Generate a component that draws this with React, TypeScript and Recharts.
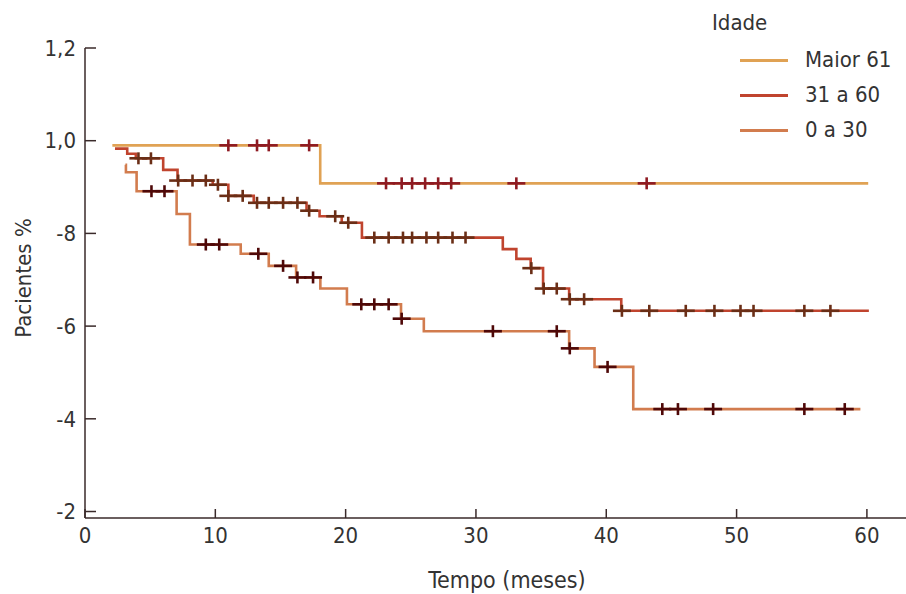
import React from "react";
import {
  ComposedChart,
  Line,
  Scatter,
  XAxis,
  YAxis,
  Legend,
  Label
} from "recharts";

// Kaplan-Meier: tempo (meses) x proporção de pacientes, por faixa de idade
const maiorTempo = [2.1, 18.05, 60.1];
const maiorSobrevida = [0.99, 0.908, 0.908];
const maiorCensura = [11.0, 13.2, 14.1, 17.2, 23.1, 24.3, 25.1, 26.1, 27.1, 28.1, 33.1, 43.1];

const medioTempo = [2.3, 3.24, 3.9, 6.0, 7.1, 9.8, 11.0, 12.95, 17.0, 18.0, 19.7, 21.25, 32.06, 33.1, 34.2, 35.15, 37.15, 41.15, 60.15];
const medioSobrevida = [0.983, 0.972, 0.962, 0.937, 0.914, 0.905, 0.881, 0.866, 0.849, 0.837, 0.823, 0.791, 0.766, 0.745, 0.725, 0.681, 0.658, 0.633, 0.633];
const medioCensura = [4.1, 5.06, 7.15, 8.25, 9.27, 10.2, 11.0, 12.1, 13.2, 14.1, 15.2, 16.3, 17.2, 19.2, 20.2, 22.2, 23.3, 24.4, 25.1, 26.2, 27.1, 28.2, 29.2, 34.25, 35.2, 36.2, 37.2, 38.3, 41.2, 43.3, 46.1, 48.3, 50.3, 51.3, 55.2, 57.2];

const jovemTempo = [3.1, 3.14, 3.96, 7.03, 8.05, 11.95, 14.1, 16.2, 18.06, 20.1, 24.25, 26.0, 37.15, 39.1, 42.07, 59.5];
const jovemSobrevida = [0.948, 0.932, 0.891, 0.842, 0.776, 0.756, 0.73, 0.705, 0.681, 0.647, 0.616, 0.589, 0.552, 0.512, 0.421, 0.421];
const jovemCensura = [5.1, 6.1, 9.27, 10.3, 13.3, 15.2, 16.3, 17.5, 21.2, 22.2, 23.3, 24.3, 31.3, 36.2, 37.2, 40.1, 44.3, 45.5, 48.2, 55.2, 58.3];

const xTicks = [0, 10, 20, 30, 40, 50, 60];
const yTicks = [0.2, 0.4, 0.6, 0.8, 1.0, 1.2];
const yTickLabels = ["-2", "-4", "-6", "-8", "1,0", "1,2"];

const font = "'Liberation Sans Narrow', 'DejaVu Sans Condensed', 'Roboto Condensed', sans-serif";
const textColor = "#333";
const axisColor = "#3a2a2a";

function toPoints(tempo: number[], sobrevida: number[]) {
  return tempo.map((t, i) => ({ t, s: sobrevida[i] }));
}

// censored marks sit on the curve: take the step value at that time
function censorPoints(tempo: number[], sobrevida: number[], censura: number[]) {
  return censura.map((t) => {
    let s = sobrevida[0];
    tempo.forEach((tt, i) => {
      if (tt <= t) s = sobrevida[i];
    });
    return { t, s };
  });
}

const series = [
  { name: "Maior 61", color: "#e0a254", mark: "#8e1a22", tempo: maiorTempo, sobrevida: maiorSobrevida, censura: maiorCensura },
  { name: "31 a 60", color: "#c0442e", mark: "#6a2e16", tempo: medioTempo, sobrevida: medioSobrevida, censura: medioCensura },
  { name: "0 a 30", color: "#d27c4e", mark: "#4e0808", tempo: jovemTempo, sobrevida: jovemSobrevida, censura: jovemCensura }
];

function makeCross(color: string) {
  return (props: any) => {
    const { cx, cy } = props;
    return (
      <g>
        <line x1={cx - 9} x2={cx + 9} y1={cy} y2={cy} stroke={color} strokeWidth={2.6} />
        <line x1={cx} x2={cx} y1={cy - 6} y2={cy + 6} stroke={color} strokeWidth={2.6} />
      </g>
    );
  };
}

function YTick(props: any) {
  const { x, y, payload } = props;
  const idx = yTicks.findIndex((v) => Math.abs(v - payload.value) < 1e-6);
  return (
    <g>
      <line x1={x} x2={x + 11} y1={y} y2={y} stroke={axisColor} strokeWidth={1.5} />
      <text x={x - 9} y={y} dy="0.35em" textAnchor="end" fontSize={22} fontFamily={font} fill={textColor}>
        {yTickLabels[idx]}
      </text>
    </g>
  );
}

function XTick(props: any) {
  const { x, y, payload } = props;
  return (
    <g>
      <line x1={x} x2={x} y1={y} y2={y - 9} stroke={axisColor} strokeWidth={1.5} />
      <text x={x} y={y + 17} dy="0.35em" textAnchor="middle" fontSize={22} fontFamily={font} fill={textColor}>
        {payload.value}
      </text>
    </g>
  );
}

function LegendBox() {
  return (
    <div style={{ position: "relative", width: 206, height: 150, fontFamily: font, color: textColor }}>
      <div style={{ position: "absolute", left: 12, top: 10, fontSize: 22, lineHeight: "26px" }}>Idade</div>
      {series.map((s, i) => (
        <div key={s.name} style={{ position: "absolute", left: 40, top: 47 + i * 35, height: 26, display: "flex", alignItems: "center" }}>
          <div style={{ width: 48, height: 3, background: s.color }} />
          <span style={{ marginLeft: 17, fontSize: 22, lineHeight: "26px" }}>{s.name}</span>
        </div>
      ))}
    </div>
  );
}

export default function App() {
  return (
    <div style={{ position: "absolute", left: 0, top: 0, width: 906, height: 594, background: "#fff" }}>
      <ComposedChart width={906} height={594} margin={{ top: 48, right: 0, bottom: 0, left: 0 }}>
        <XAxis
          dataKey="t"
          type="number"
          domain={[0, 63]}
          ticks={xTicks}
          allowDataOverflow
          height={76}
          tickSize={0}
          tickMargin={0}
          tickLine={false}
          tick={<XTick />}
          axisLine={{ stroke: axisColor, strokeWidth: 1.5 }}
        >
          <Label
            content={() => (
              <text x={507} y={588} textAnchor="middle" fontSize={23} fontFamily={font} fill={textColor}>
                Tempo (meses)
              </text>
            )}
          />
        </XAxis>
        <YAxis
          type="number"
          domain={[0.186, 1.2]}
          ticks={yTicks}
          allowDataOverflow
          width={85}
          tickSize={0}
          tickMargin={0}
          tickLine={false}
          tick={<YTick />}
          axisLine={{ stroke: axisColor, strokeWidth: 1.5 }}
        >
          <Label
            content={() => (
              <text
                x={23}
                y={278}
                transform="rotate(-90 23 278)"
                textAnchor="middle"
                dy="0.35em"
                fontSize={22}
                fontFamily={font}
                fill={textColor}
              >
                Pacientes %
              </text>
            )}
          />
        </YAxis>
        {series.map((s) => (
          <Line
            key={s.name}
            name={s.name}
            data={toPoints(s.tempo, s.sobrevida)}
            dataKey="s"
            type="stepAfter"
            stroke={s.color}
            strokeWidth={2.6}
            dot={false}
            activeDot={false}
            isAnimationActive={false}
          />
        ))}
        {series.map((s) => (
          <Scatter
            key={s.name + "-censura"}
            data={censorPoints(s.tempo, s.sobrevida, s.censura)}
            dataKey="s"
            shape={makeCross(s.mark)}
            legendType="none"
            isAnimationActive={false}
          />
        ))}
        <Legend
          layout="horizontal"
          verticalAlign="middle"
          align="center"
          content={() => <LegendBox />}
          wrapperStyle={{ position: "absolute", left: 700, top: 0, width: 206, height: 150 }}
        />
      </ComposedChart>
    </div>
  );
}
